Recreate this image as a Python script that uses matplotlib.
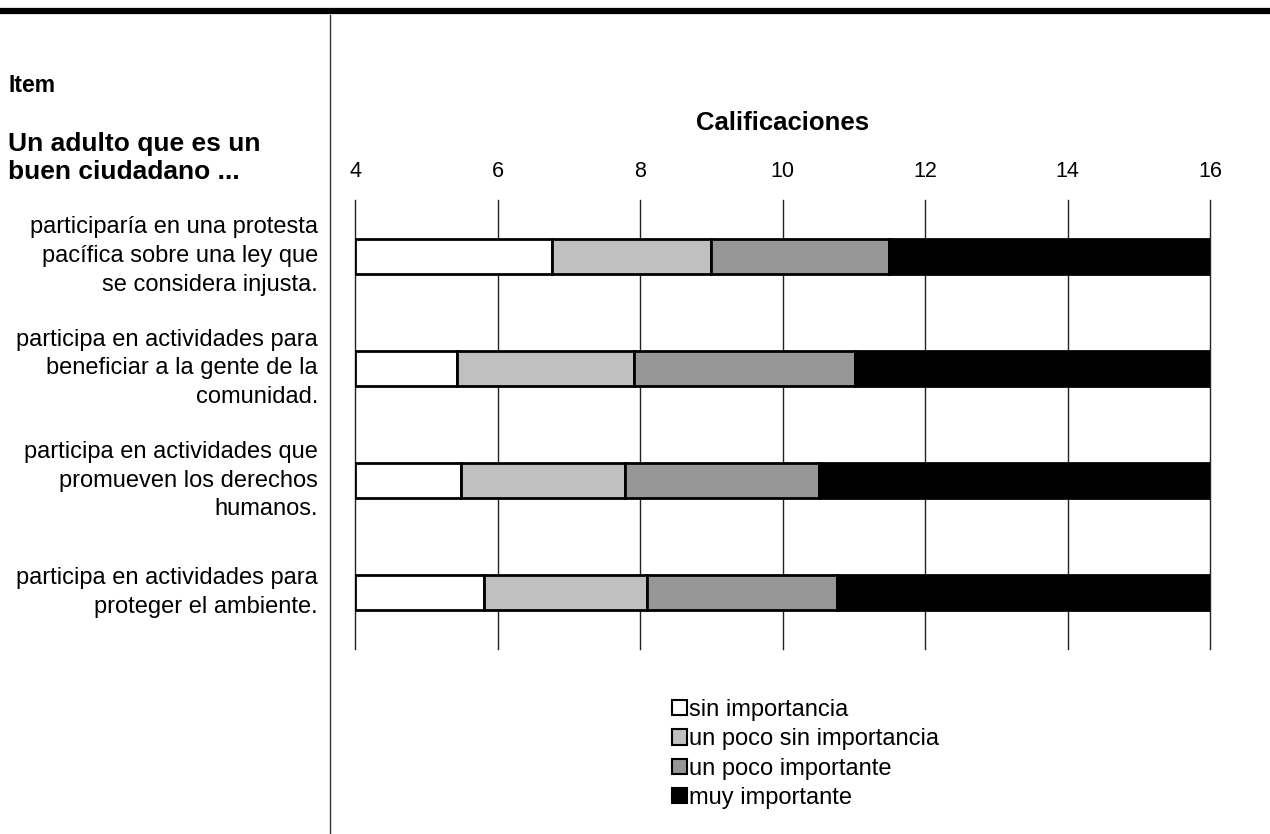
import numpy as np
import matplotlib.pyplot as plt
from matplotlib.transforms import blended_transform_factory
from matplotlib.patches import Patch

plt.rcParams['font.family'] = ['Liberation Sans', 'DejaVu Sans']

# Données
items = [
    'participaría en una protesta\npacífica sobre una ley que\nse considera injusta.',
    'participa en actividades para\nbeneficiar a la gente de la\ncomunidad.',
    'participa en actividades que\npromueven los derechos\nhumanos.',
    'participa en actividades para\nproteger el ambiente.',
]
categorias = ['sin importancia', 'un poco sin importancia',
              'un poco importante', 'muy importante']
sin_importancia = [2.76, 1.43, 1.49, 1.81]
poco_sin_importancia = [2.24, 2.48, 2.30, 2.29]
poco_importante = [2.49, 3.11, 2.72, 2.66]
muy_importante = [4.51, 4.98, 5.49, 5.24]
x_inicio = 4
ticks = [4, 6, 8, 10, 12, 14, 16]
colores = ['#ffffff', '#c0c0c0', '#969696', '#000000']

fig = plt.figure(figsize=(12.7, 8.34), dpi=100)
ax = fig.add_axes([355/1270, 185/834, 855/1270, 449/834])

y = np.arange(len(items))
gauche = np.full(len(items), float(x_inicio))
series = [sin_importancia, poco_sin_importancia, poco_importante, muy_importante]
for valores, color, nom in zip(series, colores, categorias):
    ax.barh(y, valores, left=gauche, height=0.31, color=color,
            edgecolor='black', linewidth=2, label=nom, zorder=3)
    gauche += np.array(valores)

ax.set_xlim(4, 16)
ax.set_ylim(len(items) - 0.5, -0.5)
ax.set_xticks(ticks)
ax.xaxis.tick_top()
ax.tick_params(axis='x', length=0, pad=13, labelsize=15.5)
ax.set_yticks([])
ax.grid(axis='x', color='#222222', linewidth=1, zorder=0)
for g in ax.get_xgridlines():
    g.set_clip_on(False)
for s in ax.spines.values():
    s.set_visible(False)

fig.text(782.5/1270, 1 - 123/834, 'Calificaciones', fontsize=18.5,
         fontweight='bold', ha='center', va='center')

# Libellés des items
trans = blended_transform_factory(fig.transFigure, ax.transData)
for i, txt in enumerate(items):
    ax.text(318/1270, i, txt, transform=trans, ha='right', va='center',
            fontsize=17, linespacing=1.4, multialignment='right')

# En-têtes
fig.text(8/1270, 1 - 85/834, 'Item', fontsize=16.5, fontweight='bold', va='center')
fig.text(8/1270, 1 - 158/834, 'Un adulto que es un\nbuen ciudadano ...',
         fontsize=19, fontweight='bold', va='center', linespacing=1.19)

# Lignes de séparation
fig.add_artist(plt.Line2D([0.002, 1], [1 - 11/834, 1 - 11/834],
                          transform=fig.transFigure, color='black', linewidth=4.5))
fig.add_artist(plt.Line2D([330/1270, 330/1270], [0, 1 - 15/834],
                          transform=fig.transFigure, color='#333333', linewidth=1))

# Légende
handles = [Patch(facecolor=c, edgecolor='black', linewidth=1.5) for c in colores]
fig.legend(handles, categorias, loc='upper left',
           bbox_to_anchor=(672/1270, 1 - 699/834), frameon=False, fontsize=17,
           handlelength=0.62, handleheight=0.62, handletextpad=0.12,
           labelspacing=0.31, borderpad=0, borderaxespad=0)

plt.savefig('out.png', dpi=100)
